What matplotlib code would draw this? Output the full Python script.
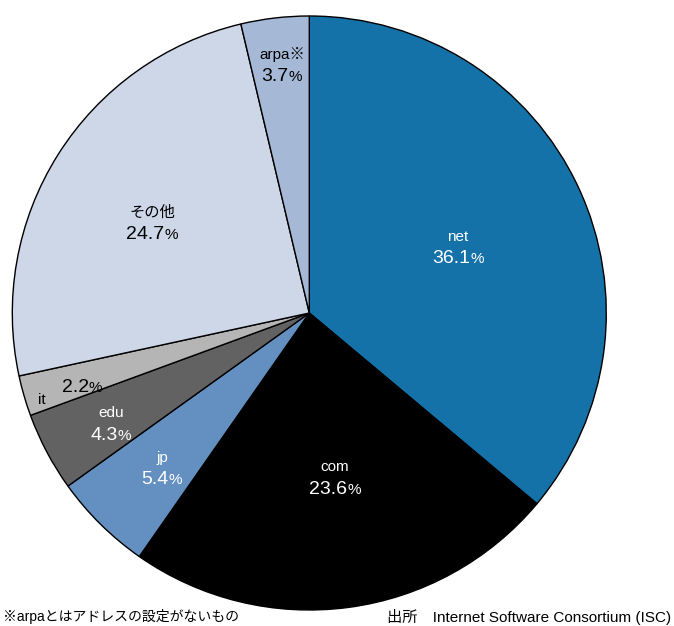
import matplotlib.pyplot as plt
from matplotlib.offsetbox import TextArea, HPacker, AnnotationBbox

plt.rcParams['font.family'] = ['Liberation Sans', 'Noto Sans CJK JP', 'DejaVu Sans']

# データ（時計回り、12時の位置から）
labels = ['net', 'com', 'jp', 'edu', 'it', 'その他', 'arpa※']
values = [36.1, 23.6, 5.4, 4.3, 2.2, 24.7, 3.7]
colors = ['#1572a8', '#000000', '#6390c0', '#626262', '#b5b5b5', '#cdd7e8', '#a5b9d7']
text_colors = ['white', 'white', 'white', 'white', 'black', 'black', 'black']

# ラベル位置（半径=1 の単位）
label_pos = [(0.501, 0.219), (0.087, -0.557), (-0.496, -0.525), (-0.668, -0.375),
             (-0.765, -0.2525), (-0.530, 0.301), (-0.092, 0.832)]
it_name_pos = (-0.900, -0.293)

W, H = 674, 626
fig = plt.figure(figsize=(W / 100, H / 100), dpi=100)
ax = fig.add_axes([12.3 / W, 16 / H, 594 / W, 594 / H])

wedges, _ = ax.pie(values, colors=colors, startangle=90, counterclock=False,
                   radius=1.0, wedgeprops=dict(edgecolor='black', linewidth=1.0))
ax.set_xlim(-1, 1)
ax.set_ylim(-1, 1)
ax.set_aspect('equal')
ax.axis('off')


def pct_text(x, y, v, color):
    # 数字と小さめの「%」を並べる
    num = TextArea(f'{v}', textprops=dict(color=color, fontsize=14))
    sign = TextArea('%', textprops=dict(color=color, fontsize=11))
    box = HPacker(children=[num, sign], align='baseline', pad=0, sep=0)
    ab = AnnotationBbox(box, (x, y), frameon=False, box_alignment=(0.5, 0.5), pad=0)
    ax.add_artist(ab)


for lab, v, tc, (x, y) in zip(labels, values, text_colors, label_pos):
    if lab == 'it':
        pct_text(x, y, v, tc)
        ax.text(it_name_pos[0], it_name_pos[1], lab, color=tc, fontsize=11, ha='center', va='center')
        continue
    ax.text(x, y + 0.037, lab, color=tc, fontsize=11, ha='center', va='center')
    pct_text(x, y - 0.037, v, tc)

fig.text(3 / W, 1 - 617 / H, '※arpaとはアドレスの設定がないもの', fontsize=10, ha='left', va='center')
fig.text(671 / W, 1 - 617 / H, '出所　Internet Software Consortium (ISC)', fontsize=11, ha='right', va='center')

fig.savefig('out.png', dpi=100)
